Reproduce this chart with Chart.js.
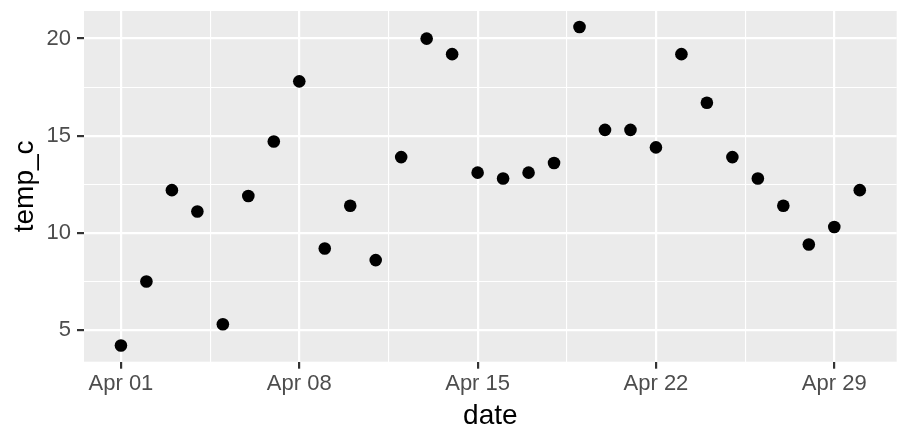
<!DOCTYPE html>
<html>
<head>
<meta charset="utf-8">
<script src="https://cdn.jsdelivr.net/npm/chart.js@4.4.1/dist/chart.umd.min.js"></script>
<style>
  html, body { margin: 0; padding: 0; background: #ffffff; }
  #wrap { width: 910px; height: 436px; }
</style>
</head>
<body>
<div id="wrap"><canvas id="tempChart" width="910" height="436"></canvas></div>
<script>
// Temperature readings for April (day of month -> temp_c)
const days = [1, 2, 3, 4, 5, 6, 7, 8, 9, 10, 11, 12, 13, 14, 15,
              16, 17, 18, 19, 20, 21, 22, 23, 24, 25, 26, 27, 28, 29, 30];
const temps = [4.2, 7.5, 12.2, 11.1, 5.3, 11.9, 14.7, 17.8, 9.2, 11.4, 8.6, 13.9, 20.0, 19.2, 13.1,
               12.8, 13.1, 13.6, 20.6, 15.3, 15.3, 14.4, 19.2, 16.7, 13.9, 12.8, 11.4, 9.4, 10.3, 12.2];

// axis breaks
const xMajor = [1, 8, 15, 22, 29];
const xMajorLabels = ['Apr 01', 'Apr 08', 'Apr 15', 'Apr 22', 'Apr 29'];
const xMinor = [4.5, 11.5, 18.5, 25.5];
const yMajor = [5, 10, 15, 20];
const yMinor = [7.5, 12.5, 17.5];

const panelGrey = '#EBEBEB';
const fontFamily = '"Liberation Sans", Arial, Helvetica, sans-serif';

const panelBackground = {
    id: 'panelBackground',
    beforeDraw(chart) {
        const { ctx, chartArea: a } = chart;
        ctx.save();
        ctx.fillStyle = panelGrey;
        ctx.fillRect(a.left, a.top, a.right - a.left, a.bottom - a.top);
        ctx.restore();
    }
};

function buildTicks(major, minor) {
    return (scale) => {
        scale.ticks = [...major, ...minor].sort((a, b) => a - b).map(v => ({ value: v }));
    };
}

function gridFor(major) {
    const isMajor = (ctx) => ctx.tick && major.includes(ctx.tick.value);
    return {
        color: '#ffffff',
        lineWidth: (ctx) => isMajor(ctx) ? 2.2 : 1.1,
        drawTicks: true,
        tickLength: 7,
        tickWidth: 2.2,
        tickColor: (ctx) => isMajor(ctx) ? '#333333' : 'rgba(0,0,0,0)'
    };
}

new Chart(document.getElementById('tempChart').getContext('2d'), {
    type: 'scatter',
    data: {
        datasets: [{
            label: 'temp_c',
            data: days.map((d, i) => ({ x: d, y: temps[i] })),
            backgroundColor: '#000000',
            borderWidth: 0,
            pointRadius: 6.3,
            pointHoverRadius: 6.3
        }]
    },
    options: {
        responsive: false,
        animation: false,
        events: [],
        layout: { padding: { top: 11, right: 13.3, left: 0, bottom: 0 } },
        scales: {
            x: {
                type: 'linear',
                min: -0.45,
                max: 31.45,
                afterBuildTicks: buildTicks(xMajor, xMinor),
                afterFit: (scale) => {
                    scale.height = 74.3;
                    scale.paddingLeft = 0;
                    scale.paddingRight = 0;
                },
                border: { display: false },
                grid: gridFor(xMajor),
                ticks: {
                    autoSkip: false,
                    maxRotation: 0,
                    padding: 2.5,
                    color: '#4D4D4D',
                    font: { family: fontFamily, size: 22 },
                    callback: (value) => {
                        const i = xMajor.indexOf(value);
                        return i >= 0 ? xMajorLabels[i] : '';
                    }
                },
                title: {
                    display: true,
                    text: 'date',
                    color: '#000000',
                    font: { family: fontFamily, size: 28 },
                    padding: { top: 0, bottom: 3 }
                }
            },
            y: {
                type: 'linear',
                min: 3.37,
                max: 21.42,
                afterBuildTicks: buildTicks(yMajor, yMinor),
                afterFit: (scale) => {
                    scale.width = 84;
                    scale.paddingTop = 0;
                    scale.paddingBottom = 0;
                },
                border: { display: false },
                grid: gridFor(yMajor),
                ticks: {
                    autoSkip: false,
                    padding: 6,
                    color: '#4D4D4D',
                    font: { family: fontFamily, size: 22 },
                    callback: (value) => yMajor.includes(value) ? String(value) : ''
                },
                title: {
                    display: true,
                    text: 'temp_c',
                    color: '#000000',
                    font: { family: fontFamily, size: 28 },
                    padding: { top: 8, bottom: 0 }
                }
            }
        },
        plugins: {
            legend: { display: false },
            tooltip: { enabled: false }
        }
    },
    plugins: [panelBackground]
});
</script>
</body>
</html>
